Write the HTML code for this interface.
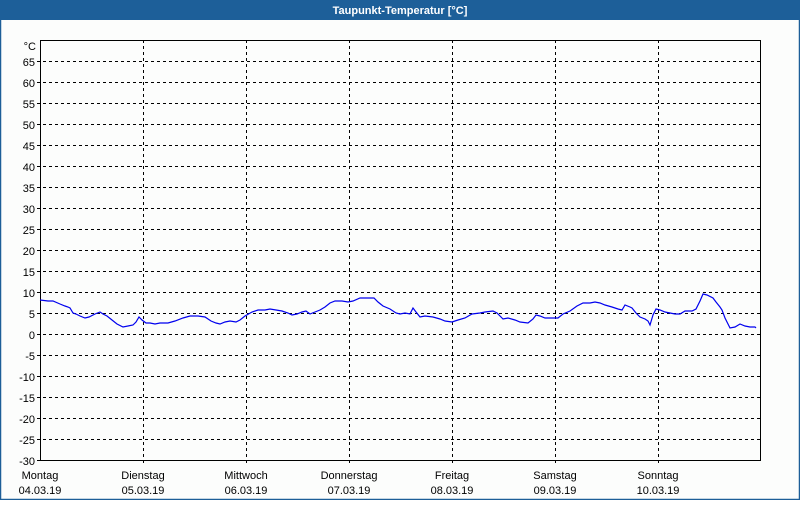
<!DOCTYPE html>
<html><head><style>
body{margin:0;width:800px;height:500px;overflow:hidden;background:#fff;}
</style></head><body>
<svg width="800" height="500" xmlns="http://www.w3.org/2000/svg" font-family="Liberation Sans, sans-serif" font-size="11">
<rect x="0" y="0" width="800" height="500" fill="#fcfdfc"/>
<rect x="0.5" y="0.5" width="799" height="499" fill="none" stroke="#1d5e98" stroke-width="1.5"/>
<rect x="0" y="0" width="800" height="20" fill="#1d5f99"/>
<text x="400" y="14" text-anchor="middle" fill="#fff" font-weight="bold" font-size="11">Taupunkt-Temperatur [°C]</text>
<g stroke="#000" stroke-dasharray="3,3" stroke-width="1">
<line x1="37" y1="61.5" x2="760" y2="61.5"/><line x1="37" y1="82.5" x2="760" y2="82.5"/><line x1="37" y1="103.5" x2="760" y2="103.5"/><line x1="37" y1="124.5" x2="760" y2="124.5"/><line x1="37" y1="145.5" x2="760" y2="145.5"/><line x1="37" y1="166.5" x2="760" y2="166.5"/><line x1="37" y1="187.5" x2="760" y2="187.5"/><line x1="37" y1="208.5" x2="760" y2="208.5"/><line x1="37" y1="229.5" x2="760" y2="229.5"/><line x1="37" y1="250.5" x2="760" y2="250.5"/><line x1="37" y1="271.5" x2="760" y2="271.5"/><line x1="37" y1="292.5" x2="760" y2="292.5"/><line x1="37" y1="313.5" x2="760" y2="313.5"/><line x1="37" y1="334.5" x2="760" y2="334.5"/><line x1="37" y1="355.5" x2="760" y2="355.5"/><line x1="37" y1="376.5" x2="760" y2="376.5"/><line x1="37" y1="397.5" x2="760" y2="397.5"/><line x1="37" y1="418.5" x2="760" y2="418.5"/><line x1="37" y1="439.5" x2="760" y2="439.5"/>
<line x1="143.5" y1="40" x2="143.5" y2="464"/><line x1="246.5" y1="40" x2="246.5" y2="464"/><line x1="349.5" y1="40" x2="349.5" y2="464"/><line x1="452.5" y1="40" x2="452.5" y2="464"/><line x1="555.5" y1="40" x2="555.5" y2="464"/><line x1="658.5" y1="40" x2="658.5" y2="464"/>
</g>
<rect x="40.5" y="40.5" width="720" height="420" fill="none" stroke="#000" stroke-width="1"/>
<line x1="37" y1="460.5" x2="40" y2="460.5" stroke="#000"/>
<g text-anchor="end" fill="#000">
<text x="36" y="50">°C</text>
<text x="35" y="66">65</text><text x="35" y="87">60</text><text x="35" y="108">55</text><text x="35" y="129">50</text><text x="35" y="150">45</text><text x="35" y="171">40</text><text x="35" y="192">35</text><text x="35" y="213">30</text><text x="35" y="234">25</text><text x="35" y="255">20</text><text x="35" y="276">15</text><text x="35" y="297">10</text><text x="35" y="318">5</text><text x="35" y="339">0</text><text x="35" y="360">-5</text><text x="35" y="381">-10</text><text x="35" y="402">-15</text><text x="35" y="423">-20</text><text x="35" y="444">-25</text><text x="35" y="465">-30</text>
</g>
<g text-anchor="middle" fill="#000">
<text x="40" y="479">Montag</text><text x="40" y="494">04.03.19</text>
<text x="143" y="479">Dienstag</text><text x="143" y="494">05.03.19</text>
<text x="246" y="479">Mittwoch</text><text x="246" y="494">06.03.19</text>
<text x="349" y="479">Donnerstag</text><text x="349" y="494">07.03.19</text>
<text x="452" y="479">Freitag</text><text x="452" y="494">08.03.19</text>
<text x="555" y="479">Samstag</text><text x="555" y="494">09.03.19</text>
<text x="658" y="479">Sonntag</text><text x="658" y="494">10.03.19</text>
</g>
<polyline fill="none" stroke="#0000ee" stroke-width="1.2" points="40,300 48,301 53,301 60,304 65,306 68,307 70,308 73,313 76,314 80,316 85,318 89,317 95,314 100,312 103,314 107,316 112,320 117,324 123,327 128,326 133,325 136,322 139,317 142,320 146,323 150,323 155,324 160,323 168,323 175,321 183,318 190,316 198,316 205,317 211,321 216,323 220,324 225,322 230,321 236,322 240,320 245,316 252,312 258,310 265,310 270,309 276,310 282,311 288,313 292,315 297,314 302,312 306,311 310,314 315,312 320,310 325,307 330,303 335,301 342,301 348,302 353,301 360,298 368,298 374,298 378,302 383,306 390,309 396,313 400,314 405,313 410,314 413,308 416,312 420,317 425,316 433,317 440,319 445,321 452,322 458,320 465,318 472,314 480,313 485,312 493,311 497,313 503,319 508,318 515,320 520,322 528,323 533,319 536,315 540,316 545,318 550,318 558,318 563,314 570,311 577,306 583,303 590,303 595,302 600,303 605,305 612,307 618,309 622,310 625,305 630,307 632,308 636,313 640,317 645,319 648,321 650,325 653,315 656,309 660,310 665,312 670,313 675,314 680,314 685,311 692,311 696,309 700,301 703,294 707,295 713,298 716,302 720,307 722,310 725,318 730,328 735,327 740,324 745,326 750,327 755,327 756,328"/>
</svg>
</body></html>
